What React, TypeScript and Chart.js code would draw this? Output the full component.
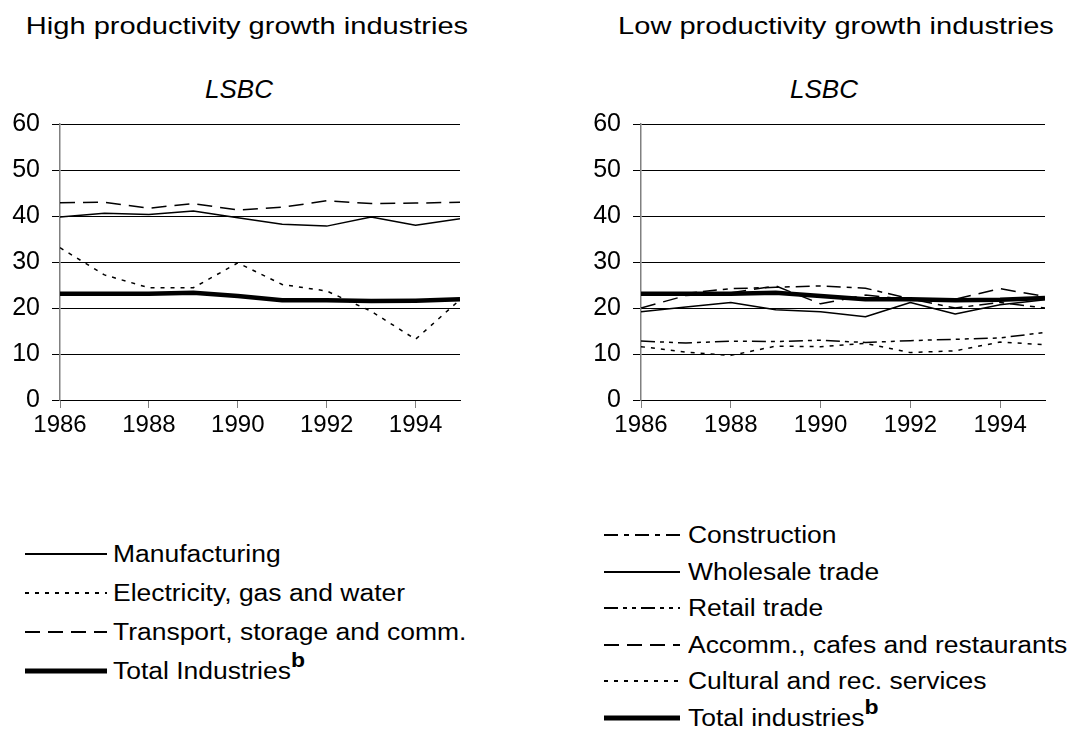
import React, { useEffect, useRef } from "react";
import { Chart, registerables } from "chart.js";

Chart.register(...registerables);

const years = [1986, 1987, 1988, 1989, 1990, 1991, 1992, 1993, 1994, 1995];
const yTickValues = [0, 10, 20, 30, 40, 50, 60];
const xTickYears = [1986, 1988, 1990, 1992, 1994];

// High productivity growth industries
const manufacturing = [39.8, 40.6, 40.3, 41.1, 39.6, 38.2, 37.8, 39.8, 38.0, 39.4];
const electricity = [33.1, 27.2, 24.4, 24.4, 29.8, 25.1, 23.7, 19.3, 13.2, 21.8];
const transport = [42.9, 43.0, 41.7, 42.7, 41.3, 41.9, 43.3, 42.7, 42.8, 43.0];
const totalHigh = [23.1, 23.1, 23.1, 23.3, 22.6, 21.7, 21.7, 21.5, 21.6, 21.9];

// Low productivity growth industries
const construction = [23.0, 23.2, 24.2, 24.5, 24.8, 24.3, 22.0, 20.0, 21.2, 20.0];
const wholesale = [19.2, 20.2, 21.2, 19.6, 19.2, 18.1, 21.2, 18.7, 20.7, 21.8];
const retail = [12.8, 12.4, 12.8, 12.7, 13.0, 12.5, 12.9, 13.2, 13.5, 14.7];
const accomm = [20.0, 22.7, 23.3, 24.8, 20.9, 22.8, 21.8, 21.9, 24.2, 22.5];
const cultural = [11.6, 10.4, 9.7, 11.7, 11.6, 12.3, 10.3, 10.7, 12.6, 12.0];
const totalLow = [23.1, 23.1, 23.1, 23.3, 22.6, 21.9, 21.9, 21.7, 21.8, 22.2];

const FONT = "'Liberation Sans', Arial, Helvetica, sans-serif";

type Series = { label: string; values: number[]; width: number; dash: number[] };

const highSeries: Series[] = [
  { label: "Manufacturing", values: manufacturing, width: 1.5, dash: [] },
  { label: "Electricity, gas and water", values: electricity, width: 1.5, dash: [4, 6] },
  { label: "Transport, storage and comm.", values: transport, width: 1.5, dash: [15, 8] },
  { label: "Total Industries", values: totalHigh, width: 4.5, dash: [] },
];

const lowSeries: Series[] = [
  { label: "Construction", values: construction, width: 1.5, dash: [14, 6, 5, 6] },
  { label: "Wholesale trade", values: wholesale, width: 1.5, dash: [] },
  { label: "Retail trade", values: retail, width: 1.5, dash: [14, 5, 4, 5, 4, 5] },
  { label: "Accomm., cafes and restaurants", values: accomm, width: 1.5, dash: [15, 8] },
  { label: "Cultural and rec. services", values: cultural, width: 1.5, dash: [4, 6] },
  { label: "Total industries", values: totalLow, width: 4.5, dash: [] },
];

const CANVAS_H = 336;

function LineChart({
  series,
  left,
  top,
  width,
}: {
  series: Series[];
  left: number;
  top: number;
  width: number;
}) {
  const ref = useRef<HTMLCanvasElement | null>(null);
  useEffect(() => {
    if (!ref.current) return;
    const chart = new Chart(ref.current, {
      type: "line",
      data: {
        datasets: series.map((s) => ({
          label: s.label,
          data: years.map((yr, i) => ({ x: yr, y: s.values[i] })),
          borderColor: "#000",
          borderWidth: s.width,
          borderDash: s.dash,
          pointRadius: 0,
          fill: false,
          tension: 0,
          borderCapStyle: "butt" as const,
          borderJoinStyle: "round" as const,
        })),
      },
      options: {
        animation: false,
        responsive: false,
        maintainAspectRatio: false,
        layout: { padding: { top: 20, right: 20, left: 0, bottom: 0 } },
        plugins: { legend: { display: false }, tooltip: { enabled: false } },
        scales: {
          x: {
            type: "linear",
            min: years[0],
            max: years[years.length - 1],
            afterBuildTicks: (s: any) => {
              s.ticks = xTickYears.map((v) => ({ value: v }));
            },
            afterFit: (s: any) => {
              s.height = 40;
              s.paddingLeft = 0;
              s.paddingRight = 0;
            },
            ticks: {
              color: "#000",
              font: { family: FONT, size: 24 },
              padding: 3,
              maxRotation: 0,
              autoSkip: false,
              callback: (v: any) => String(v),
            },
            grid: {
              drawOnChartArea: false,
              drawTicks: true,
              tickLength: 8,
              color: "#808080",
              lineWidth: 1,
            },
            border: { display: true, color: "#000", width: 1 },
          },
          y: {
            type: "linear",
            min: yTickValues[0],
            max: yTickValues[yTickValues.length - 1],
            afterBuildTicks: (s: any) => {
              s.ticks = yTickValues.map((v) => ({ value: v }));
            },
            afterFit: (s: any) => {
              s.width = 60;
              s.paddingTop = 0;
              s.paddingBottom = 0;
            },
            ticks: {
              color: "#000",
              font: { family: FONT, size: 25 },
              padding: 12,
            },
            grid: {
              color: "#000",
              lineWidth: 1,
              drawTicks: true,
              tickLength: 8,
            },
            border: { display: true, color: "#808080", width: 1.5 },
          },
        },
      },
    });
    return () => chart.destroy();
  }, [series]);
  return (
    <canvas
      ref={ref}
      width={width}
      height={CANVAS_H}
      style={{ position: "absolute", left, top, width, height: CANVAS_H }}
    />
  );
}

function LegendSample({ s, x, y, len }: { s: Series; x: number; y: number; len: number }) {
  return (
    <svg width={len} height={10} style={{ position: "absolute", left: x, top: y - 5 }}>
      <line
        x1={0}
        y1={5}
        x2={len}
        y2={5}
        stroke="#000"
        strokeWidth={s.width > 3 ? 5 : 2}
        strokeDasharray={s.dash.length ? s.dash.join(",") : undefined}
      />
    </svg>
  );
}

function Legend({
  series,
  lineX,
  lineLen,
  textX,
  startY,
  step,
}: {
  series: Series[];
  lineX: number;
  lineLen: number;
  textX: number;
  startY: number;
  step: number;
}) {
  return (
    <>
      {series.map((s, i) => {
        const y = startY + i * step;
        const isTotal = s.width > 3;
        return (
          <React.Fragment key={s.label}>
            <LegendSample s={s} x={lineX} y={y} len={lineLen} />
            <div
              style={{
                position: "absolute",
                left: textX,
                top: y - 14,
                fontFamily: FONT,
                fontSize: 23,
                lineHeight: "28px",
                whiteSpace: "nowrap",
                color: "#000",
                transform: "scaleX(1.15)",
                transformOrigin: "left center",
              }}
            >
              {s.label}
              {isTotal ? (
                <span
                  style={{
                    fontWeight: "bold",
                    fontSize: 20,
                    position: "relative",
                    top: -12,
                    lineHeight: 0,
                  }}
                >
                  b
                </span>
              ) : null}
            </div>
          </React.Fragment>
        );
      })}
    </>
  );
}

const textStyle: React.CSSProperties = {
  position: "absolute",
  fontFamily: FONT,
  color: "#000",
  whiteSpace: "nowrap",
};

export default function App() {
  return (
    <div
      style={{
        position: "absolute",
        left: 0,
        top: 0,
        width: 1082,
        height: 736,
        background: "#fff",
        overflow: "hidden",
      }}
    >
      <div style={{ ...textStyle, left: 247, top: 12, fontSize: 24, transform: "translateX(-50%) scaleX(1.21)" }}>
        High productivity growth industries
      </div>
      <div style={{ ...textStyle, left: 239, top: 74, fontSize: 26, fontStyle: "italic", transform: "translateX(-50%)" }}>
        LSBC
      </div>
      <div style={{ ...textStyle, left: 836, top: 12, fontSize: 24, transform: "translateX(-50%) scaleX(1.21)" }}>
        Low productivity growth industries
      </div>
      <div style={{ ...textStyle, left: 824, top: 74, fontSize: 26, fontStyle: "italic", transform: "translateX(-50%)" }}>
        LSBC
      </div>

      <LineChart series={highSeries} left={0} top={104} width={480} />
      <LineChart series={lowSeries} left={581} top={104} width={484} />

      <Legend series={highSeries} lineX={25} lineLen={82} textX={113} startY={554} step={39} />
      <Legend series={lowSeries} lineX={604} lineLen={76} textX={688} startY={535} step={36.5} />
    </div>
  );
}
